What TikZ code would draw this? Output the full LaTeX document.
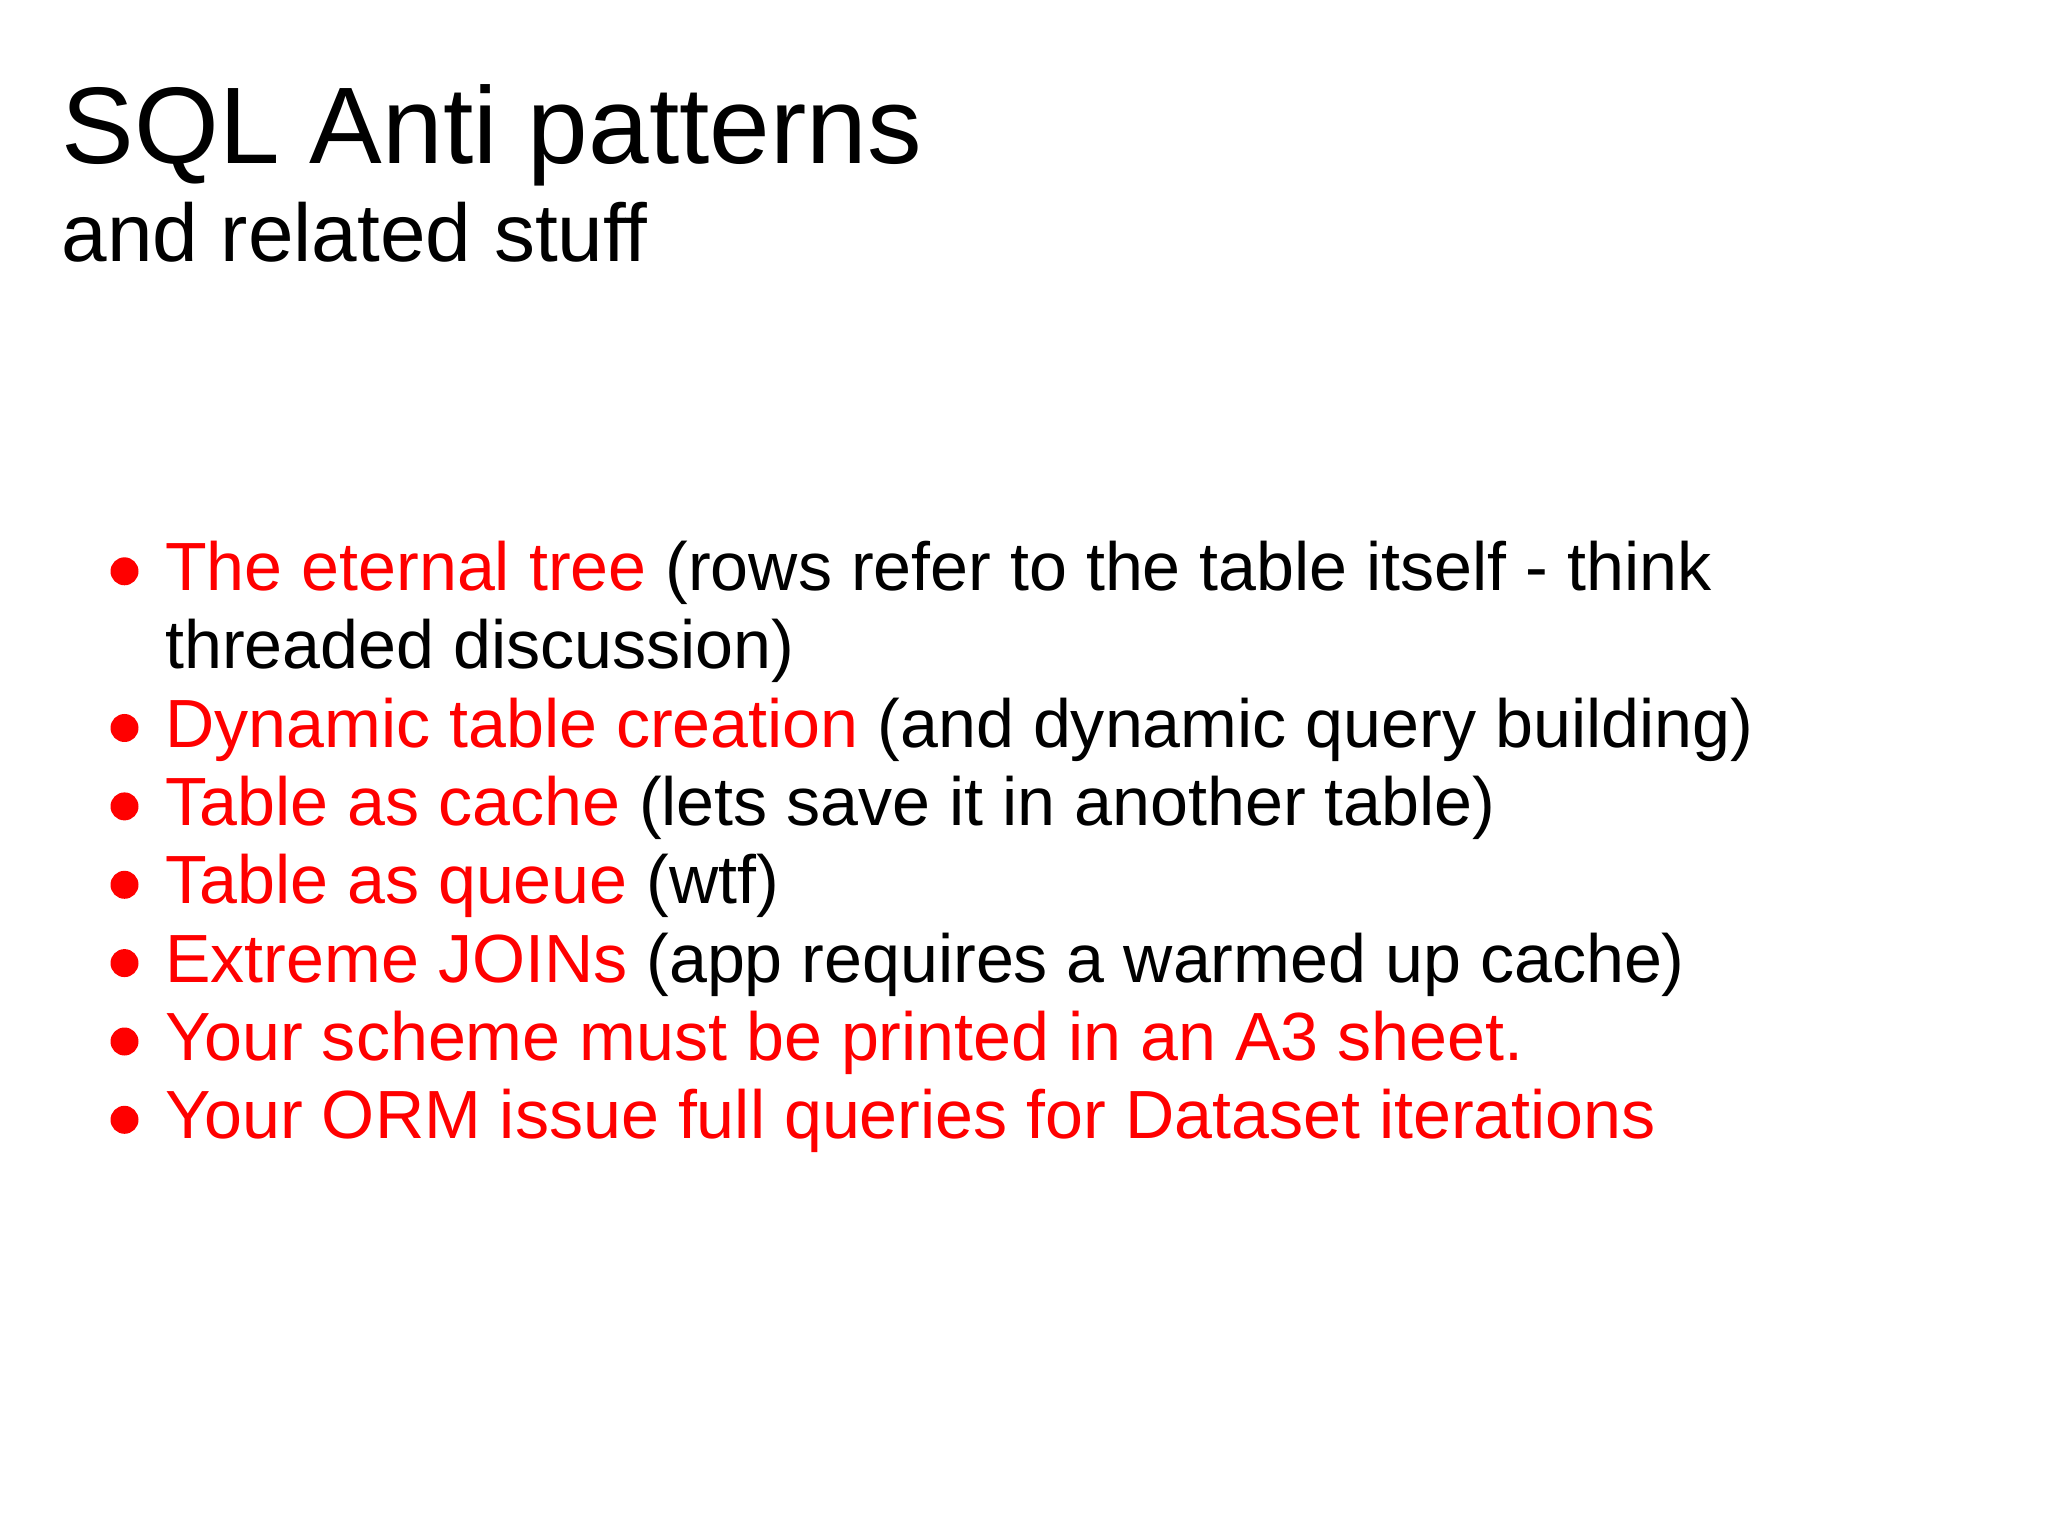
\documentclass[tikz,border=0pt]{standalone}
\usepackage{fontspec}
\setmainfont{Liberation Sans}
\definecolor{antired}{RGB}{255,0,0}
\begin{document}
\begin{tikzpicture}[x=1cm,y=1cm,
  itemtxt/.style={anchor=base west,inner sep=0pt,font=\fontsize{19.4}{23}\selectfont},
  dot/.style={fill=antired,draw=none,circle,minimum size=0.28cm,inner sep=0pt}]
\useasboundingbox (0,0) rectangle (20.48,-15.36);
\fill[white] (0,0) rectangle (20.48,-15.36);
\node[anchor=base west,inner sep=0pt,font=\fontsize{31}{36}\selectfont] (title) at (0.61,-1.633) {SQL Anti patterns};
\node[anchor=base west,inner sep=0pt,font=\fontsize{23.3}{28}\selectfont] (sub) at (0.61,-2.612) {and related stuff};
\foreach \n/\y/\r/\b in {
 1/5.903/The eternal tree/(rows refer to the table itself - think,
 3/7.470/Dynamic table creation/(and dynamic query building),
 4/8.254/Table as cache/(lets save it in another table),
 5/9.038/Table as queue/(wtf),
 6/9.821/Extreme JOINs/(app requires a warmed up cache),
 7/10.605/Your scheme must be printed in an A3 sheet./{},
 8/11.388/Your ORM issue full queries for Dataset iterations/{}}{
  \node[dot] (d\n) at (1.245,-\y+0.19) {};
  \node[itemtxt] (t\n) at (1.646,-\y) {\textcolor{antired}{\r} \b};
}
\node[itemtxt] (t2) at (1.646,-6.687) {threaded discussion)};
\end{tikzpicture}
\end{document}
